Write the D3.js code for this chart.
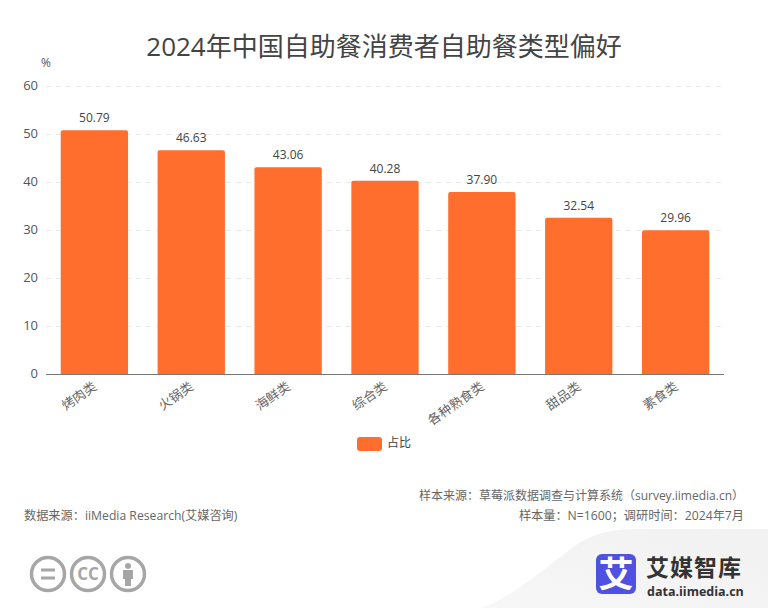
<!DOCTYPE html>
<html><head><meta charset="utf-8">
<script src="https://cdnjs.cloudflare.com/ajax/libs/d3/7.9.0/d3.min.js"></script>
<style>html,body{margin:0;background:#fff}svg{display:block;font-family:"Open Sans","Noto Sans CJK SC",sans-serif}</style>
</head><body><svg id="c" width="768" height="608"></svg>
<script>
const categories=["烤肉类","火锅类","海鲜类","综合类","各种熟食类","甜品类","素食类"];
const values=[50.79,46.63,43.06,40.28,37.90,32.54,29.96];
const yTicks=[0,10,20,30,40,50,60];
const seriesName="占比";
const title="2024年中国自助餐消费者自助餐类型偏好";
const sourceLeft="数据来源：iiMedia Research(艾媒咨询)";
const sourceRight=["样本来源：草莓派数据调查与计算系统（survey.iimedia.cn）","样本量：N=1600；调研时间：2024年7月"];
const svg=d3.select("#c");
const x=d3.scaleBand().domain(categories).range([46,724]).paddingInner(0.305).paddingOuter(0.152);
const y=d3.scaleLinear().domain([0,60]).range([374,86]);
const orange="#ff6e2c";
const defs=svg.append("defs");
const grad=defs.append("linearGradient").attr("id","sw").attr("x1",0).attr("x2",1).attr("y1",1).attr("y2",0);
grad.append("stop").attr("offset",0).attr("stop-color","#f7f7f7");
grad.append("stop").attr("offset",1).attr("stop-color","#f1f1f1");
svg.append("path").attr("d","M768 608H482C515 595 545 568 572 548C590 534 610 529 640 529H768Z").attr("fill","url(#sw)");
svg.append("text").attr("x",384).attr("y",56).attr("text-anchor","middle").attr("font-size",26).attr("fill","#444").text(title);
svg.append("text").attr("x",41).attr("y",67).attr("font-size",12).attr("fill","#555").text("%");
const g=svg.append("g");
g.selectAll(".grid").data(yTicks.filter(d=>d>0)).join("line").attr("x1",46).attr("x2",724)
 .attr("y1",d=>y(d)+.5).attr("y2",d=>y(d)+.5).attr("stroke","#e8e8e8").attr("stroke-dasharray","5 5");
g.selectAll(".yl").data(yTicks).join("text").attr("x",38).attr("y",d=>y(d)+4).attr("text-anchor","end")
 .attr("font-size",13).attr("fill","#555").text(d=>d);
g.selectAll(".bar").data(values).join("path").attr("fill",orange).attr("d",(d,i)=>{
 const X=x(categories[i]),W=x.bandwidth(),T=y(d),r=2;
 return `M${X} 374V${T+r}Q${X} ${T} ${X+r} ${T}H${X+W-r}Q${X+W} ${T} ${X+W} ${T+r}V374Z`;});
g.selectAll(".val").data(values).join("text").attr("x",(d,i)=>x(categories[i])+x.bandwidth()/2).attr("y",d=>y(d)-8)
 .attr("text-anchor","middle").attr("font-size",12).attr("fill","#444").text(d=>d.toFixed(2));
svg.append("line").attr("x1",46).attr("x2",724).attr("y1",374.5).attr("y2",374.5).attr("stroke","#777");
g.selectAll(".cat").data(categories).join("text").attr("text-anchor","end").attr("font-size",13).attr("fill","#666")
 .attr("transform",d=>`translate(${x(d)+x.bandwidth()/2-2},${381}) rotate(-35)`).attr("dy","0.7em").text(d=>d);
svg.append("rect").attr("x",357).attr("y",437).attr("width",25).attr("height",14).attr("rx",3).attr("fill",orange);
svg.append("text").attr("x",387).attr("y",447).attr("font-size",12).attr("fill","#444").text(seriesName);
svg.append("text").attr("x",24).attr("y",520).attr("font-size",12.2).attr("fill","#666").text(sourceLeft);
sourceRight.forEach((t,i)=>svg.append("text").attr("x",744).attr("y",i?520:500).attr("text-anchor","end").attr("font-size",i?12.2:12).attr("fill","#666").text(t));
const grey="#a6a6a6";
[48,88,128].forEach(cx=>svg.append("circle").attr("cx",cx).attr("cy",574).attr("r",16.5).attr("fill","#fff").attr("stroke",grey).attr("stroke-width",3.5));
[570,578].forEach(yy=>svg.append("rect").attr("x",41).attr("y",yy-1.5).attr("width",14).attr("height",3).attr("fill",grey));
svg.append("text").attr("x",88).attr("y",580).attr("text-anchor","middle").attr("font-size",17).attr("font-weight",700).attr("fill",grey).text("CC");
svg.append("circle").attr("cx",128).attr("cy",566).attr("r",3).attr("fill",grey);
svg.append("path").attr("d","M123 570H133V579H131V586H125V579H123Z").attr("fill",grey);
svg.append("rect").attr("x",596).attr("y",554).attr("width",40).attr("height",40).attr("rx",6).attr("fill","#4f52e0");
svg.append("text").attr("x",616).attr("y",587).attr("text-anchor","middle").attr("font-size",35).attr("font-weight",700).attr("fill","#fff").text("艾");
svg.append("text").attr("x",646).attr("y",576).attr("font-size",23).attr("font-weight",700).attr("letter-spacing",1).attr("fill","#333").text("艾媒智库");
svg.append("text").attr("x",647).attr("y",596).attr("font-size",12.5).attr("font-weight",700).attr("fill","#333").text("data.iimedia.cn");
</script></body></html>
